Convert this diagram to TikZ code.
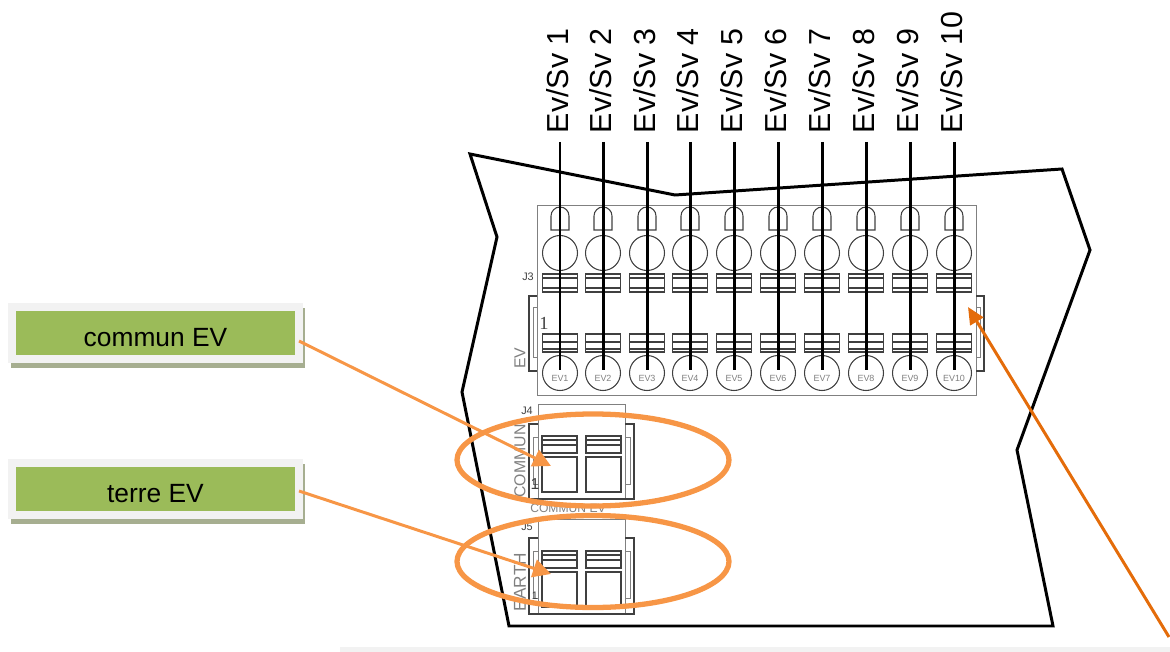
\documentclass[tikz,border=0pt]{standalone}
\usepackage{fontspec}
\setmainfont{Liberation Sans}
\newfontfamily\serifpin{Liberation Serif}
\usetikzlibrary{arrows.meta,shadows}
\definecolor{boxgreen}{HTML}{9BBB59}
\definecolor{boxrim}{HTML}{F2F2F2}
\definecolor{boxshade}{HTML}{A6AE90}
\definecolor{ringorange}{HTML}{F79646}
\definecolor{darkorange}{HTML}{E46C0A}
\definecolor{pcbgrey}{HTML}{404040}
\begin{document}
\begin{tikzpicture}[x=0.02cm,y=-0.02cm,
    pcb/.style={draw=pcbgrey,line width=0.6pt},
    pcblight/.style={draw=gray,line width=0.55pt},
    wire/.style={line width=1.7pt,black},
    border/.style={line width=1.7pt,black},
    ring/.style={draw=ringorange,line width=3pt},
    callout/.style={ringorange,line width=1.7pt,-{Triangle[length=0.36cm,width=0.36cm]}},
    tag/.style={fill=boxgreen,draw=boxrim,line width=4.5pt,minimum width=5.74cm,minimum height=1.04cm,
      inner sep=0pt,text height=0.52cm,text depth=0pt,font=\fontsize{15pt}{16pt}\selectfont,
      copy shadow={draw=boxshade,fill=boxshade,shadow xshift=0.05cm,shadow yshift=-0.1cm}},
    wirelabel/.style={rotate=90,anchor=west,inner sep=0pt,outer sep=0.18cm,text height=0.43cm,text depth=0.08cm,
      font=\fontsize{17.3pt}{18pt}\selectfont},
    silk/.style={inner sep=0pt,text=gray,font=\fontsize{9pt}{10pt}\selectfont},
    pinlabel/.style={circle,pcb,minimum size=0.7cm,inner sep=0pt,text=gray,font=\fontsize{5.1pt}{6pt}\selectfont},
    small/.style={inner sep=0pt,text=pcbgrey,font=\fontsize{6.2pt}{7pt}\selectfont}]
  \useasboundingbox (0,0) rectangle (1170,652);
  \fill[boxrim] (340,647) rectangle (1170,652);
  \draw[border] (470,154) -- (675,195) -- (1062,169) -- (1090,250) -- (1017,450)
    -- (1053,626) -- (509,626) -- (462,392) -- (497,237) -- cycle;
  \draw[pcblight] (537,205) rectangle (976,395);
  \draw[pcb] (537,296) -- (529,296) -- (529,371) -- (537,371);
  \draw[pcblight] (537,307) -- (533,307) -- (533,357) -- (537,357);
  \draw[pcb] (976,296) -- (984,296) -- (984,371) -- (976,371);
  \draw[pcblight] (976,307) -- (980,307) -- (980,357) -- (976,357);
  \node[small] (j3) at (528,277) {J3};
  \node[inner sep=0pt,text=pcbgrey,font=\fontsize{10.5pt}{11pt}\serifpin] (one) at (544,323) {1};
  \node[silk,rotate=90] (evtext) at (520,358) {EV};
  \foreach \i/\cx in {1/560,2/603,3/647,4/690,5/734,6/778,7/822,8/866,9/910,10/954} {
    \draw[pcb] (\cx-9,230) -- (\cx-9,216) arc[start angle=180,end angle=360,radius=9] -- (\cx+9,230) -- cycle;
    \draw[pcb] (\cx,253) circle[radius=17.5];
    \draw[pcb] (\cx-17.5,274) rectangle (\cx+17.5,292);
    \draw[pcb] (\cx-17.5,278) -- (\cx+17.5,278) (\cx-17.5,288) -- (\cx+17.5,288);
    \draw[pcb] (\cx-17.5,334) rectangle (\cx+17.5,352);
    \draw[pcb] (\cx-17.5,342) -- (\cx+17.5,342) (\cx-17.5,349) -- (\cx+17.5,349);
    \node[pinlabel] (ev\i) at (\cx,373) {\raisebox{-4.7pt}[0pt][0pt]{EV\i}};
    \node[wirelabel] (lab\i) at (\cx,142) {Ev/Sv \i};
    \draw[wire,shorten >=0.06cm] (lab\i.west) -- (ev\i.center);
  }
  \foreach \top/\low in {404/424,519/538} {
    \draw[pcblight] (538,\top) rectangle (625,\top+95);
    \draw[pcb] (538,\low) -- (529,\low) -- (529,\top+95) -- (634,\top+95) -- (634,\low) -- (625,\low);
    \draw[pcblight] (538,\low+13) -- (533,\low+13) -- (533,\low+60) -- (538,\low+60);
    \draw[pcblight] (625,\low+13) -- (630,\low+13) -- (630,\low+60) -- (625,\low+60);
    \foreach \cx in {559.5,603.5} {
      \draw[pcb] (\cx-17.5,\top+32) rectangle (\cx+17.5,\top+49);
      \draw[pcb] (\cx-17.5,\top+36) -- (\cx+17.5,\top+36) (\cx-17.5,\top+41) -- (\cx+17.5,\top+41);
      \draw[pcb] (\cx-17.5,\top+53) rectangle (\cx+17.5,\top+88);
    }
  }
  \node[small] (j4) at (527,411) {J4};
  \node[small] (j5) at (527,527) {J5};
  \node[small,font=\fontsize{9pt}{10pt}\selectfont] (one4) at (535,484) {1};
  \node[small] (one5) at (535,596) {1};
  \node[silk,rotate=90] (commun) at (520,461) {COMMUN};
  \node[silk,rotate=90,font=\fontsize{9.8pt}{10pt}\selectfont] (earth) at (520,582) {EARTH};
  \node[silk,font=\fontsize{6.9pt}{8pt}\selectfont] (communev) at (568,508) {COMMUN EV};
  \node[tag] (tagcommun) at (155.5,333) {commun EV};
  \node[tag] (tagterre) at (155.5,489) {terre EV};
  \coordinate (startcommun) at (299,341);
  \coordinate (startterre) at (299,491);
  \coordinate (tipcommun) at (551,466);
  \coordinate (tipterre) at (551,574);
  \coordinate (startev) at (1169,637);
  \coordinate (tipev) at (968,307);
  \draw[ring] (593,460) ellipse[x radius=136,y radius=46];
  \draw[ring] (593,561.5) ellipse[x radius=136,y radius=46];
  \draw[callout] (startcommun) -- (tipcommun);
  \draw[callout] (startterre) -- (tipterre);
  \draw[line width=1.7pt,darkorange,-{Triangle[length=0.34cm,width=0.3cm]}] (startev) -- (tipev);
\end{tikzpicture}
\end{document}
